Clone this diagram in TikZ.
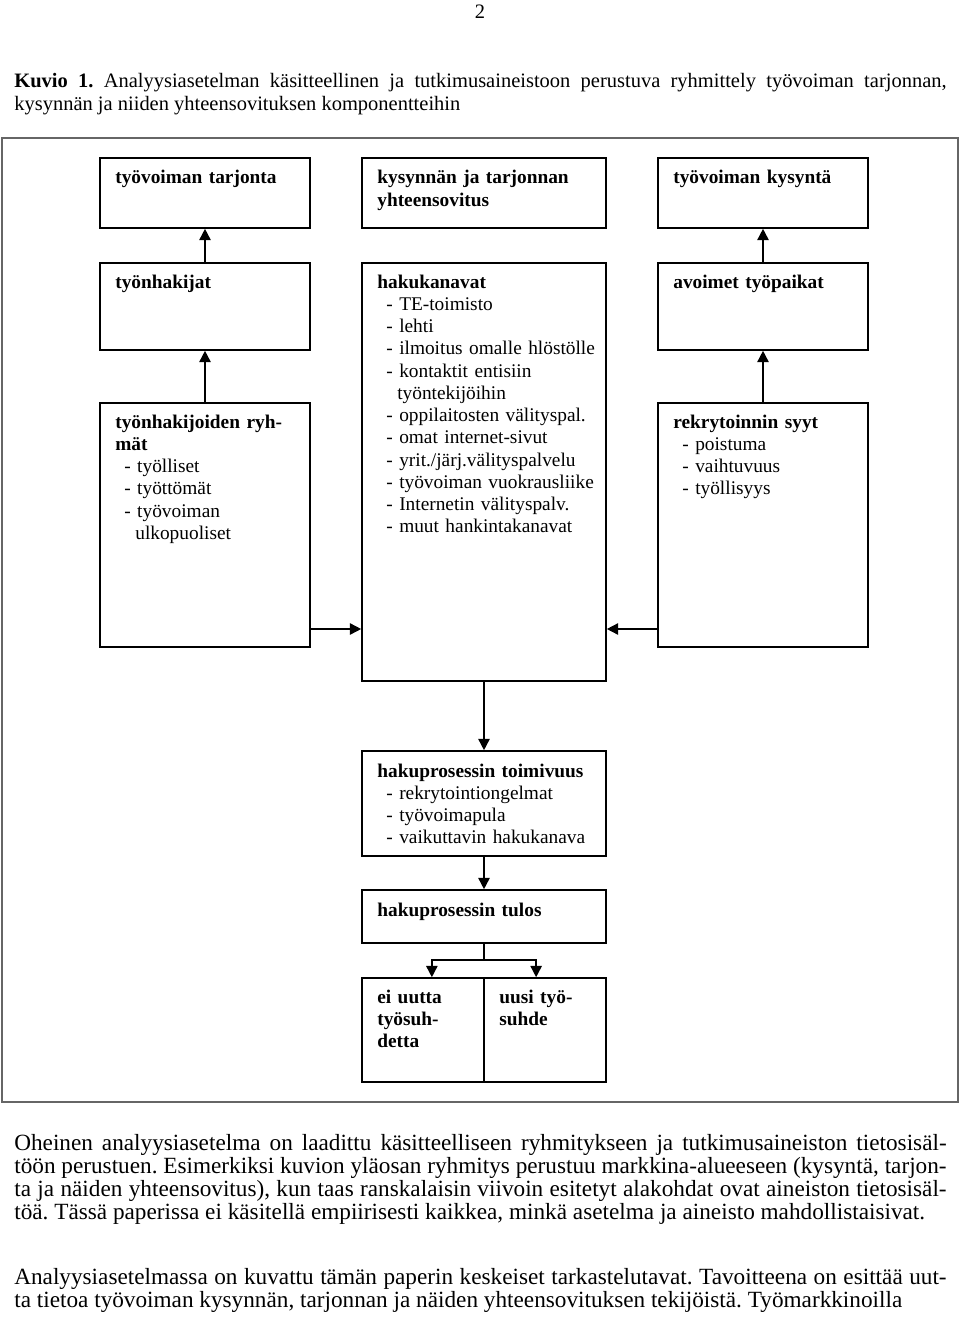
\documentclass[tikz,border=0pt]{standalone}
\usepackage{fontspec}
\setmainfont{Liberation Serif}
\usetikzlibrary{arrows.meta,fit}

\begin{document}
\begin{tikzpicture}[x=0.62pt,y=-0.62pt,
        boxNode/.style = {draw=black,line width=1pt,inner sep=0pt},
        textNode/.style = {anchor=base west,inner sep=0pt,text width=170pt,align=left,
            font=\fontsize{12}{13.8}\selectfont},
        pageText/.style = {anchor=base west,inner sep=0pt,text width=578pt,align=justify,
            font={\fontsize{14.4}{14.45}\selectfont\frenchspacing\hyphenpenalty10000 \exhyphenpenalty10000 }},
        arrowLine/.style = {line width=1pt,-{Triangle[length=7pt,width=7pt]}},
        frameLine/.style = {draw=black!60,line width=0.8pt,inner sep=0pt}
        ]
        \useasboundingbox (0,0) rectangle (960,1317);
        \node[inner sep=0pt,anchor=base,font=\fontsize{12.7}{14}\selectfont] (sivu) at (480,19) {2};
        \node[pageText,font={\fontsize{12.7}{14.2}\selectfont\frenchspacing}] (otsikko) at (14,88) {\textbf{Kuvio 1.} Analyysiasetelman käsitteellinen ja tutkimusaineistoon perustuva ryhmittely työvoiman tarjonnan,\linebreak kysynnän ja niiden yhteensovituksen komponentteihin};
        \node[frameLine,fit={(2,138) (958,1102)}] (kehys) {};
        % laatikot
        \node[boxNode,fit={(100,158) (310,228)}] (tarjonta) {};
        \node[boxNode,fit={(362,158) (606,228)}] (sovitus) {};
        \node[boxNode,fit={(658,158) (868,228)}] (kysynta) {};
        \node[boxNode,fit={(100,263) (310,350)}] (hakijat) {};
        \node[boxNode,fit={(100,403) (310,647)}] (ryhmat) {};
        \node[boxNode,fit={(362,263) (606,681)}] (kanavat) {};
        \node[boxNode,fit={(658,263) (868,350)}] (avoimet) {};
        \node[boxNode,fit={(658,403) (868,647)}] (syyt) {};
        \node[boxNode,fit={(362,751) (606,856)}] (toimivuus) {};
        \node[boxNode,fit={(362,890) (606,943)}] (tulos) {};
        \node[boxNode,fit={(362,978) (484,1082)}] (eiUutta) {};
        \node[boxNode,fit={(484,978) (606,1082)}] (uusiSuhde) {};
        % tekstit
        \node[textNode] (tarjontaTxt) at (115,184) {\textbf{työvoiman tarjonta}};
        \node[textNode] (sovitusTxt) at (377,184) {\textbf{kysynnän ja tarjonnan}\\\textbf{yhteensovitus}};
        \node[textNode] (kysyntaTxt) at (673,184) {\textbf{työvoiman kysyntä}};
        \node[textNode] (hakijatTxt) at (115,288) {\textbf{työnhakijat}};
        \node[textNode] (ryhmatTxt) at (115,428) {\textbf{työnhakijoiden ryh-}\\\textbf{mät}\\
            \hspace*{5.6pt}- työlliset\\\hspace*{5.6pt}- työttömät\\\hspace*{5.6pt}- työvoiman\\\hspace*{12.4pt}ulkopuoliset};
        \node[textNode] (kanavatTxt) at (377,288) {\textbf{hakukanavat}\\
            \hspace*{5.6pt}- TE-toimisto\\\hspace*{5.6pt}- lehti\\\hspace*{5.6pt}- ilmoitus omalle hlöstölle\\
            \hspace*{5.6pt}- kontaktit entisiin\\\hspace*{12.4pt}työntekijöihin\\
            \hspace*{5.6pt}- oppilaitosten välityspal.\\\hspace*{5.6pt}- omat internet-sivut\\
            \hspace*{5.6pt}- yrit./järj.välityspalvelu\\\hspace*{5.6pt}- työvoiman vuokrausliike\\
            \hspace*{5.6pt}- Internetin välityspalv.\\\hspace*{5.6pt}- muut hankintakanavat};
        \node[textNode] (avoimetTxt) at (673,288) {\textbf{avoimet työpaikat}};
        \node[textNode] (syytTxt) at (673,428) {\textbf{rekrytoinnin syyt}\\
            \hspace*{5.6pt}- poistuma\\\hspace*{5.6pt}- vaihtuvuus\\\hspace*{5.6pt}- työllisyys};
        \node[textNode] (toimivuusTxt) at (377,777) {\textbf{hakuprosessin toimivuus}\\
            \hspace*{5.6pt}- rekrytointiongelmat\\\hspace*{5.6pt}- työvoimapula\\\hspace*{5.6pt}- vaikuttavin hakukanava};
        \node[textNode] (tulosTxt) at (377,916) {\textbf{hakuprosessin tulos}};
        \node[textNode] (eiUuttaTxt) at (377,1003) {\textbf{ei uutta}\\\textbf{työsuh-}\\\textbf{detta}};
        \node[textNode] (uusiSuhdeTxt) at (499,1003) {\textbf{uusi työ-}\\\textbf{suhde}};
        % nuolet
        \draw[arrowLine] (hakijat.north) -- (tarjonta.south);
        \draw[arrowLine] (ryhmat.north) -- (hakijat.south);
        \draw[arrowLine] (avoimet.north) -- (kysynta.south);
        \draw[arrowLine] (syyt.north) -- (avoimet.south);
        \coordinate (sivuNuoli) at (0,629);
        \draw[arrowLine] (ryhmat.east |- sivuNuoli) -- (kanavat.west |- sivuNuoli);
        \draw[arrowLine] (syyt.west |- sivuNuoli) -- (kanavat.east |- sivuNuoli);
        \draw[arrowLine] (kanavat.south) -- (toimivuus.north);
        \draw[arrowLine] (toimivuus.south) -- (tulos.north);
        \coordinate (haara) at (484,960);
        \draw[line width=1pt] (tulos.south) -- (haara);
        \draw[arrowLine] (haara) -| ([xshift=5.5pt]eiUutta.north);
        \draw[arrowLine] (haara) -| ([xshift=-5.5pt]uusiSuhde.north);
        % leipäteksti
        \node[pageText] (kappale1) at (14,1150) {Oheinen analyysiasetelma on laadittu käsitteelliseen ryhmitykseen ja tutkimusaineiston tietosisäl-\linebreak töön perustuen. Esimerkiksi kuvion yläosan ryhmitys perustuu markkina-alueeseen (kysyntä, tarjon-\linebreak ta ja näiden yhteensovitus), kun taas ranskalaisin viivoin esitetyt alakohdat ovat aineiston tietosisäl-\linebreak töä. Tässä paperissa ei käsitellä empiirisesti kaikkea, minkä asetelma ja aineisto mahdollistaisivat.};
        \node[pageText] (kappale2) at (14,1284) {\parfillskip=0pt Analyysiasetelmassa on kuvattu tämän paperin keskeiset tarkastelutavat. Tavoitteena on esittää uut-\linebreak ta tietoa työvoiman kysynnän, tarjonnan ja näiden yhteensovituksen tekijöistä. Työmarkkinoilla};
    \end{tikzpicture}
\end{document}
